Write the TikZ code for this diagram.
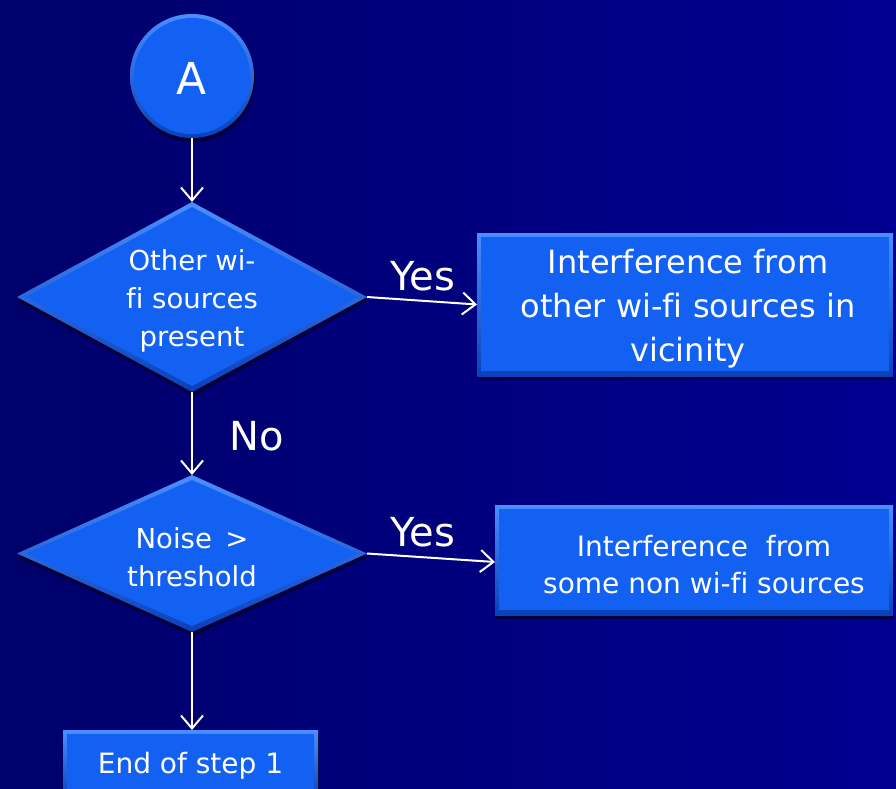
\documentclass[tikz,border=0pt]{standalone}
\usepackage{fontspec}
\setmainfont{DejaVu Sans}[Ligatures=NoCommon]
\usetikzlibrary{shapes.geometric,arrows.meta,shadows}

\definecolor{bgleft}{HTML}{00006A}
\definecolor{bgright}{HTML}{000090}
\definecolor{shapefill}{HTML}{1261F3}
\definecolor{bevtop}{HTML}{4A8EFF}
\definecolor{bevbot}{HTML}{0A40B8}

\tikzset{
  x=1pt, y=-1pt,
  softshadow/.style={drop shadow={shadow xshift=1pt, shadow yshift=-4pt, opacity=.5, fill=black}},
  bevelbox/.style={rectangle, draw=none, inner sep=0pt, outer sep=0pt,
    top color=bevtop, bottom color=bevbot, softshadow,
    path picture={\fill[shapefill]
      ([xshift=4pt,yshift=-4pt]path picture bounding box.north west) rectangle
      ([xshift=-4pt,yshift=5pt]path picture bounding box.south east);}},
  beveldiamond/.style={diamond, draw=none, inner sep=0pt, outer sep=0pt,
    top color=bevtop, bottom color=bevbot, softshadow,
    path picture={\fill[shapefill]
      ([yshift=-5pt]path picture bounding box.north) --
      ([xshift=-9pt]path picture bounding box.east) --
      ([yshift=6pt]path picture bounding box.south) --
      ([xshift=9pt]path picture bounding box.west) -- cycle;}},
  bevelcircle/.style={circle, draw=none, inner sep=0pt, outer sep=0pt,
    top color=bevtop, bottom color=bevbot, softshadow,
    path picture={\fill[shapefill] (path picture bounding box.center) circle (58pt);}},
  txt/.style={text=white, align=center, inner sep=0pt},
  arr/.style={draw=white, line width=2pt,
    -{Straight Barb[length=13pt, width=22pt, line width=2pt]}},
  answer/.style={text=white, inner sep=0pt, font=\fontsize{40pt}{48pt}\selectfont},
}

\begin{document}
\begin{tikzpicture}
  % background
  \shade[left color=bgleft, right color=bgright] (0,0) rectangle (896,788);
  \useasboundingbox (0,0) rectangle (896,788);

  % shapes
  \node[bevelcircle, minimum size=124pt] (start) at (192,76) {};
  \node[txt, font=\fontsize{44pt}{50pt}\selectfont] (startt) at (192,78) {A};

  \node[beveldiamond, minimum width=350pt, minimum height=190pt] (d1) at (192,297) {};
  \node[txt, font=\fontsize{27.5pt}{38pt}\selectfont] (d1t) at (192,301)
    {Other wi-\\fi sources\\present};

  \node[bevelbox, minimum width=416pt, minimum height=143pt] (b1) at (685,304.5) {};
  \node[txt, font=\fontsize{32pt}{44pt}\selectfont] (b1t) at (688,309)
    {Interference from\\other wi-fi sources in\\vicinity};

  \node[beveldiamond, minimum width=350pt, minimum height=157pt] (d2) at (192,553.5) {};
  \node[txt, font=\fontsize{27.5pt}{38pt}\selectfont] (d2t) at (192,557)
    {Noise \,>\\threshold};

  \node[bevelbox, minimum width=398pt, minimum height=110pt] (b2) at (694,560) {};
  \node[txt, font=\fontsize{28pt}{37pt}\selectfont] (b2t) at (704,565)
    {Interference \ from\\some non wi-fi sources};

  \node[bevelbox, minimum width=255pt, minimum height=72pt] (e) at (190.5,766) {};
  \node[txt, font=\fontsize{28pt}{34pt}\selectfont] (et) at (190.5,766) {End of step 1};

  % connectors
  \draw[arr] (start.south) -- (d1.north);
  \draw[arr] (d1.south) -- (d2.north);
  \draw[arr] (d2.south) -- (d2.south |- e.north);
  \draw[arr] (d1.east) -- (b1.west);
  \draw[arr] (d2.east) -- ([yshift=-2pt]b2.west);

  % branch labels
  \node[answer] (yes1) at (423,276) {Yes};
  \node[answer] (no1) at (257,436) {No};
  \node[answer] (yes2) at (423,532) {Yes};
\end{tikzpicture}
\end{document}
